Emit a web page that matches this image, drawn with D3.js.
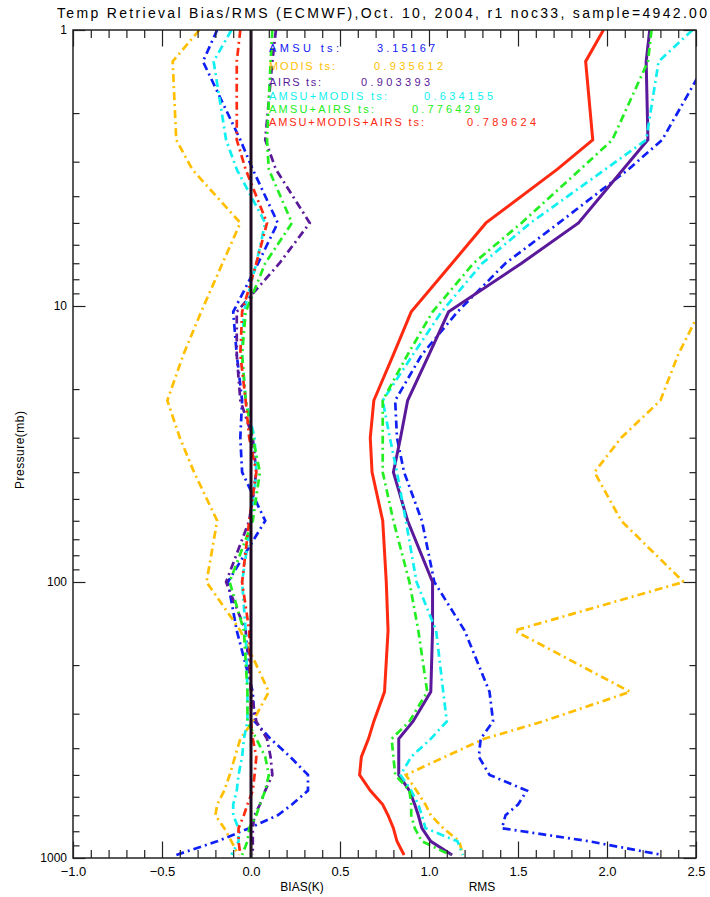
<!DOCTYPE html>
<html><head><meta charset="utf-8">
<script src="https://cdn.jsdelivr.net/npm/d3@7"></script>
<style>
body{margin:0;background:#fff;}
svg{display:block;}
text{font-family:"Liberation Sans",Arial,sans-serif;}
</style>
</head><body>
<svg id="c" width="710" height="897"></svg>
<script>
// ---------------- data ----------------
const pressure = [1, 1.3, 2.5, 3.2, 5, 7, 10.5, 15, 22, 30, 40, 60, 100, 150, 250, 320, 370, 430, 500, 570, 640, 700, 780, 870, 975];

const seriesNames = ["AMSU", "MODIS", "AIRS", "AMSU+MODIS", "AMSU+AIRS", "AMSU+MODIS+AIRS"];
const tsValues = ["3.15167", "0.935612", "0.903393", "0.634155", "0.776429", "0.789624"];

// bias (K)
const biasAMSU       = [-0.19,-0.27,-0.06, 0.01, 0.15, 0.04,-0.10,-0.08,-0.05,-0.06,-0.05, 0.08,-0.13,-0.08, 0.01, 0.02, 0.11, 0.22, 0.32, 0.32, 0.23, 0.15,-0.01,-0.19,-0.42];
const biasMODIS      = [-0.29,-0.44,-0.42,-0.33,-0.06,-0.16,-0.28,-0.38,-0.47,-0.40,-0.32,-0.19,-0.25,-0.06, 0.10, 0.01,-0.06,-0.09,-0.12,-0.15,-0.19,-0.20,-0.15,-0.11,-0.07];
const biasAIRS       = [ 0.14, 0.12, 0.08, 0.14, 0.33, 0.16,-0.08,-0.08,-0.06, 0.01, 0.03,-0.01,-0.14,-0.03, 0.00, 0.03, 0.09, 0.11, 0.12, 0.08, 0.05, 0.02, 0.01, 0.01, 0.01];
const biasAMSUMODIS  = [-0.11,-0.21,-0.14,-0.08, 0.08, 0.03,-0.04,-0.05,-0.03, 0.02, 0.03, 0.00,-0.05,-0.03,-0.02,-0.02,-0.04,-0.05,-0.07,-0.08,-0.10,-0.10,-0.07,-0.07,-0.11];
const biasAMSUAIRS   = [ 0.12, 0.11, 0.09, 0.10, 0.23, 0.08,-0.03,-0.05,-0.03, 0.01, 0.05, 0.01,-0.12,-0.04,-0.02,-0.02, 0.03, 0.08, 0.10, 0.08, 0.05, 0.03,-0.01,-0.02,-0.05];
const biasAll        = [-0.06,-0.08,-0.08,-0.03, 0.09, 0.03,-0.05,-0.06,-0.03,-0.01, 0.03,-0.01,-0.05,-0.01, 0.00, 0.00, 0.01, 0.03, 0.02, 0.01,-0.02,-0.04,-0.07,-0.07,-0.06];

// RMS
const rmsAMSU        = [2.65, 2.56, 2.31, 2.12, 1.73, 1.43, 1.16, 0.96, 0.81, 0.82, 0.86, 0.96, 1.03, 1.20, 1.34, 1.36, 1.29, 1.28, 1.34, 1.55, 1.50, 1.43, 1.41, 1.90, 2.31];
const rmsMODIS       = [2.90, 2.90, 2.90, 2.90, 2.90, 2.80, 2.52, 2.40, 2.30, 2.08, 1.93, 2.08, 2.43, 1.48, 2.13, 1.64, 1.31, 1.09, 0.87, 0.93, 0.98, 1.01, 1.08, 1.17, 1.19];
const rmsAIRS        = [2.24, 2.22, 2.23, 2.09, 1.84, 1.52, 1.11, 1.00, 0.88, 0.84, 0.80, 0.88, 1.02, 1.02, 1.01, 0.91, 0.83, 0.83, 0.83, 0.89, 0.92, 0.94, 0.96, 1.01, 1.13];
const rmsAMSUMODIS   = [2.48, 2.29, 2.22, 1.99, 1.57, 1.30, 1.07, 0.91, 0.74, 0.78, 0.82, 0.87, 0.93, 1.04, 1.08, 1.10, 1.01, 0.90, 0.84, 0.90, 0.94, 0.96, 0.98, 1.16, 1.19];
const rmsAMSUAIRS    = [2.25, 2.23, 2.03, 1.85, 1.52, 1.25, 1.02, 0.88, 0.74, 0.74, 0.74, 0.80, 0.89, 0.94, 0.99, 0.89, 0.79, 0.80, 0.81, 0.89, 0.90, 0.90, 0.92, 0.96, 1.12];
const rmsAll         = [1.98, 1.88, 1.92, 1.72, 1.32, 1.13, 0.90, 0.80, 0.69, 0.67, 0.68, 0.74, 0.76, 0.77, 0.75, 0.69, 0.66, 0.62, 0.61, 0.67, 0.74, 0.77, 0.80, 0.82, 0.86];

const xMajorTicks = [-1.0, -0.5, 0.0, 0.5, 1.0, 1.5, 2.0, 2.5];
const yMajorTicks = [1, 10, 100, 1000];
const titleText = "Temp Retrieval Bias/RMS (ECMWF),Oct. 10, 2004, r1 noc33, sample=4942.00";

// ---------------- styles ----------------
const colors = ["#1020f5", "#ffbf00", "#5a189a", "#10f0f0", "#22ee22", "#ff2a10"];
const biasData = [biasAMSU, biasMODIS, biasAIRS, biasAMSUMODIS, biasAMSUAIRS, biasAll];
const rmsData  = [rmsAMSU, rmsMODIS, rmsAIRS, rmsAMSUMODIS, rmsAMSUAIRS, rmsAll];
const rmsSolid = [false, false, true, false, false, true];

// ---------------- drawing ----------------
const svg = d3.select("#c");
const L = 73, R = 696, T = 30, B = 858;
const x = d3.scaleLinear().domain([-1, 2.5]).range([L, R]);
const y = d3.scaleLog().domain([1, 1000]).range([T, B]);

svg.append("defs").append("clipPath").attr("id", "clip")
  .append("rect").attr("x", L).attr("y", T).attr("width", R - L).attr("height", B - T);

const plot = svg.append("g").attr("clip-path", "url(#clip)");
const line = d3.line().x(d => x(d[1])).y(d => y(d[0]));
const dashDot = "8,4,2,4";

rmsData.forEach((vals, i) => {
  plot.append("path")
    .attr("d", line(pressure.map((p, k) => [p, vals[k]])))
    .attr("fill", "none").attr("stroke", colors[i])
    .attr("stroke-width", rmsSolid[i] ? 3 : 2.7)
    .attr("stroke-dasharray", rmsSolid[i] ? null : dashDot);
});
biasData.forEach((vals, i) => {
  plot.append("path")
    .attr("d", line(pressure.map((p, k) => [p, vals[k]])))
    .attr("fill", "none").attr("stroke", colors[i])
    .attr("stroke-width", 2.7)
    .attr("stroke-dasharray", dashDot);
});
// zero line
plot.append("line")
  .attr("x1", x(0)).attr("x2", x(0)).attr("y1", T).attr("y2", B)
  .attr("stroke", "#1e0a20").attr("stroke-width", 3);

// axes
const axisColor = "#222";
const xMinor = d3.range(-10, 26).filter(i => i % 5 !== 0).map(i => i / 10);
const yMinor = [];
[1, 10, 100].forEach(dd => { for (let m = 2; m <= 9; m++) yMinor.push(m * dd); });

function styleAxis(g) {
  g.select(".domain").remove();
  g.selectAll("line").attr("stroke", axisColor).attr("stroke-width", 1.2);
  g.selectAll("text").attr("fill", "#000").attr("font-family", '"Liberation Sans",Arial,sans-serif');
}

svg.append("g").attr("transform", `translate(0,${B})`)
  .call(d3.axisBottom(x).tickValues(xMajorTicks).tickSize(-16.5).tickPadding(9)
    .tickFormat(d => d3.format(".1f")(d).replace("-", "\u2212")))
  .call(styleAxis).call(g => g.selectAll("text").attr("font-size", 13));
svg.append("g").attr("transform", `translate(0,${B})`)
  .call(d3.axisBottom(x).tickValues(xMinor).tickSize(-8).tickFormat(""))
  .call(styleAxis);
svg.append("g").attr("transform", `translate(0,${T})`)
  .call(d3.axisTop(x).tickValues(xMajorTicks).tickSize(-16.5).tickFormat(""))
  .call(styleAxis);
svg.append("g").attr("transform", `translate(0,${T})`)
  .call(d3.axisTop(x).tickValues(xMinor).tickSize(-8).tickFormat(""))
  .call(styleAxis);

svg.append("g").attr("transform", `translate(${L},0)`)
  .call(d3.axisLeft(y).tickValues(yMajorTicks).tickSize(-12.5).tickPadding(6).tickFormat(d3.format("d")))
  .call(styleAxis).call(g => g.selectAll("text").attr("font-size", 12));
svg.append("g").attr("transform", `translate(${L},0)`)
  .call(d3.axisLeft(y).tickValues(yMinor).tickSize(-6.5).tickFormat(""))
  .call(styleAxis);
svg.append("g").attr("transform", `translate(${R},0)`)
  .call(d3.axisRight(y).tickValues(yMajorTicks).tickSize(-12.5).tickFormat(""))
  .call(styleAxis);
svg.append("g").attr("transform", `translate(${R},0)`)
  .call(d3.axisRight(y).tickValues(yMinor).tickSize(-6.5).tickFormat(""))
  .call(styleAxis);

// frame
svg.append("rect").attr("x", L).attr("y", T).attr("width", R - L).attr("height", B - T)
  .attr("fill", "none").attr("stroke", axisColor).attr("stroke-width", 1.5);

// title
svg.append("text").attr("x", 57).attr("y", 18)
  .attr("font-size", 14).attr("textLength", 650).attr("fill", "#000")
  .text(titleText);

// axis titles
svg.append("text").attr("x", 302).attr("y", 891).attr("text-anchor", "middle")
  .attr("font-size", 12).attr("fill", "#000").text("BIAS(K)");
svg.append("text").attr("x", 482).attr("y", 891).attr("text-anchor", "middle")
  .attr("font-size", 12).attr("fill", "#000").text("RMS");
svg.append("text").attr("transform", "translate(24,450) rotate(-90)").attr("text-anchor", "middle")
  .attr("font-size", 12).attr("textLength", 78).attr("fill", "#000").text("Pressure(mb)");

// legend
const legBase = [52, 70, 86, 100, 113, 126];
const legLabelW = [70, 66, 52, 118, 105, 155];
const legValX = [377, 374, 361, 424, 412, 467];
const legValW = [58, 69, 69, 69, 68, 69];
seriesNames.forEach((n, i) => {
  svg.append("text").attr("x", 269).attr("y", legBase[i]).attr("font-size", 11)
    .attr("fill", colors[i]).attr("textLength", legLabelW[i]).text(n + " ts:");
  svg.append("text").attr("x", legValX[i]).attr("y", legBase[i]).attr("font-size", 11)
    .attr("fill", colors[i]).attr("textLength", legValW[i]).text(tsValues[i]);
});
</script>
</body></html>
